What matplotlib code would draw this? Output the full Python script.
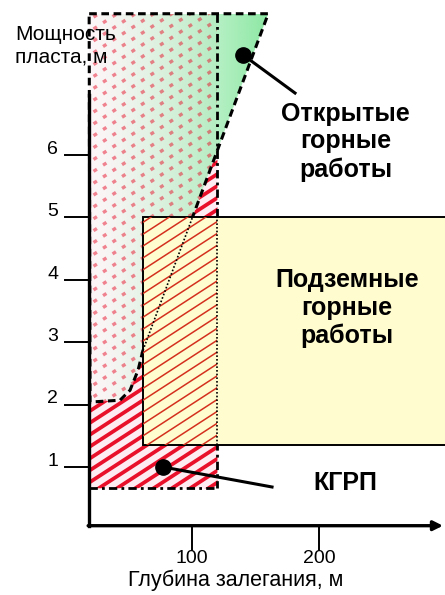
import numpy as np
import matplotlib
matplotlib.use('Agg')
import matplotlib.pyplot as plt
from matplotlib.patches import Polygon, Rectangle

plt.rcParams['font.family'] = ['Liberation Sans', 'DejaVu Sans']

# depth (m) / seam thickness (m) boundaries
open_pit_depth = [19.0, 160.0, 61.4, 57.5, 51.2, 43.3, 19.7]
open_pit_thick = [8.26, 8.26, 2.87, 2.55, 2.23, 2.07, 2.04]
kgrp_depth = [19.0, 120.0]
kgrp_thick = [0.66, 8.26]
under_depth = [61.4, 320.0]
under_thick = [1.35, 5.0]

x_ticks = [100, 200]
y_ticks = [1, 2, 3, 4, 5, 6]
axis_x0 = 19.0
axis_y0 = 0.06
axis_ytop = 6.96
axis_xend = 297.6

RED = '#e8102a'
GREEN = '#6fe28c'
YELLOW = '#fffcd0'


def hatch(ax, clip, spacing, color, lw, ls='-', alpha=1.0, z=2):
    # diagonal hatch lines clipped to a patch
    slope = 0.0132
    xs = np.array([0.0, 320.0])
    for b in np.arange(-4.0, 9.5, spacing):
        ln, = ax.plot(xs, b + slope * (xs - axis_x0), color=color, lw=lw,
                      ls=ls, alpha=alpha, zorder=z, solid_capstyle='butt')
        ln.set_clip_path(clip)


fig = plt.figure(figsize=(4.45, 5.95), dpi=100)
ax = fig.add_axes([0, 0, 1, 1])
ax.set_xlim(-51.2, 299.2)
ax.set_ylim(-1.05, 8.48)
ax.axis('off')

# open pit zone - green gradient
pit_pts = list(zip(open_pit_depth, open_pit_thick))
pit = Polygon(pit_pts, closed=True, facecolor='none', edgecolor='none',
              transform=ax.transData)
ax.add_patch(pit)
gx = np.linspace(0, 1, 200)
grad = np.zeros((2, 200, 4))
grad[..., :3] = matplotlib.colors.to_rgb(GREEN)
grad[..., 3] = gx ** 1.3 * 0.8
im = ax.imshow(grad, extent=(19, 160, 2.0, 8.26), aspect='auto', zorder=1,
               interpolation='bilinear')
im.set_clip_path(pit)

# KGRP zone: faint part (overlap with open pit)
k0, k1 = kgrp_depth
t0, t1 = kgrp_thick
kgrp = Rectangle((k0, t0), k1 - k0, t1 - t0, facecolor='#fdf0f4',
                 edgecolor='none', alpha=0.6, zorder=0.5)
ax.add_patch(kgrp)
hatch(ax, kgrp, 0.19, RED, 2.4, ls=(0, (1.2, 2.2)), alpha=0.5, z=1.5)

# KGRP zone: solid part (outside open pit)
slope_pit = (open_pit_thick[1] - open_pit_thick[2]) / (open_pit_depth[1] - open_pit_depth[2])
t_at_k1 = open_pit_thick[1] - slope_pit * (open_pit_depth[1] - k1)
solid_pts = [(k0, t0), (k1, t0), (k1, t_at_k1)] + pit_pts[2:]
solid = Polygon(solid_pts, closed=True, facecolor='#fdecf1',
                edgecolor='none', zorder=2)
ax.add_patch(solid)
hatch(ax, solid, 0.19, RED, 2.7, z=2.2)

# open pit / KGRP dashed outlines
ax.plot(open_pit_depth + [open_pit_depth[0]], open_pit_thick + [open_pit_thick[0]],
        color='black', lw=2.2, ls=(0, (2.5, 1.5)), zorder=2.5)
ax.plot([k1, k1], [t1, t0], color='black', lw=2.0, ls=(0, (3, 1.5, 1, 1.5)), zorder=2.5)
ax.plot([k0, k1], [t0, t0], color='black', lw=2.0, ls=(0, (3, 1.5, 1, 1.5)), zorder=2.5)

# underground zone
u0, u1 = under_depth
s0, s1 = under_thick
under = Rectangle((u0, s0), u1 - u0, s1 - s0, facecolor=YELLOW,
                  edgecolor='black', lw=1.4, zorder=3)
ax.add_patch(under)
inner = Rectangle((u0, s0), k1 - u0, s1 - s0, facecolor='none',
                  edgecolor='none', zorder=3)
ax.add_patch(inner)
hatch(ax, inner, 0.19, '#d4301e', 1.1, z=3.5)
ty = np.array([open_pit_thick[2], s1])
ax.plot(open_pit_depth[1] - (open_pit_thick[1] - ty) / slope_pit, ty,
        color='black', lw=1.2, ls=(0, (1, 1.2)), zorder=3.6)
ax.plot([k1, k1], [s0, s1], color='black', lw=1.2, ls=(0, (1, 1.2)), zorder=3.6)

# axes
ax.plot([axis_x0, axis_x0], [axis_y0, axis_ytop], color='black', lw=2.4, zorder=6)
ax.annotate('', xy=(axis_xend, axis_y0), xytext=(axis_x0 - 0.8, axis_y0),
            arrowprops=dict(arrowstyle='-|>', lw=2.4, color='black',
                            mutation_scale=14, shrinkA=0, shrinkB=0), zorder=6)
for t in y_ticks:
    ax.plot([0, axis_x0], [t, t], color='black', lw=1.4, zorder=6)
    ax.text(-5.5, t + 0.09, str(t), ha='right', va='center', fontsize=14)
for t in x_ticks:
    ax.plot([t, t], [axis_y0, -0.33], color='black', lw=1.4, zorder=6)
    ax.text(t, -0.47, str(t), ha='center', va='center', fontsize=14)

ax.text(-39, 7.75, 'Мощность\nпласта, м', ha='left', va='center',
        fontsize=15, linespacing=1.25, zorder=7)
ax.text(134.6, -0.81, 'Глубина залегания, м', ha='center', va='center',
        fontsize=15.5)

ax.text(221, 6.21, 'Открытые\nгорные\nработы', ha='center', va='center',
        fontsize=18, fontweight='bold', linespacing=1.2)
ax.text(222, 3.55, 'Подземные\nгорные\nработы', ha='center', va='center',
        fontsize=18, fontweight='bold', linespacing=1.2, zorder=5)
ax.text(220.5, 0.74, 'КГРП', ha='center', va='center',
        fontsize=18, fontweight='bold')

# pointers
ax.plot([140.2, 181.1], [7.60, 6.99], color='black', lw=2.2, zorder=6)
ax.plot(140.2, 7.60, 'o', color='black', ms=11, zorder=6)
ax.plot([77.2, 163.0], [1.0, 0.68], color='black', lw=2.2, zorder=6)
ax.plot(77.2, 1.0, 'o', color='black', ms=11, zorder=6)

fig.savefig('out.png', dpi=100)
